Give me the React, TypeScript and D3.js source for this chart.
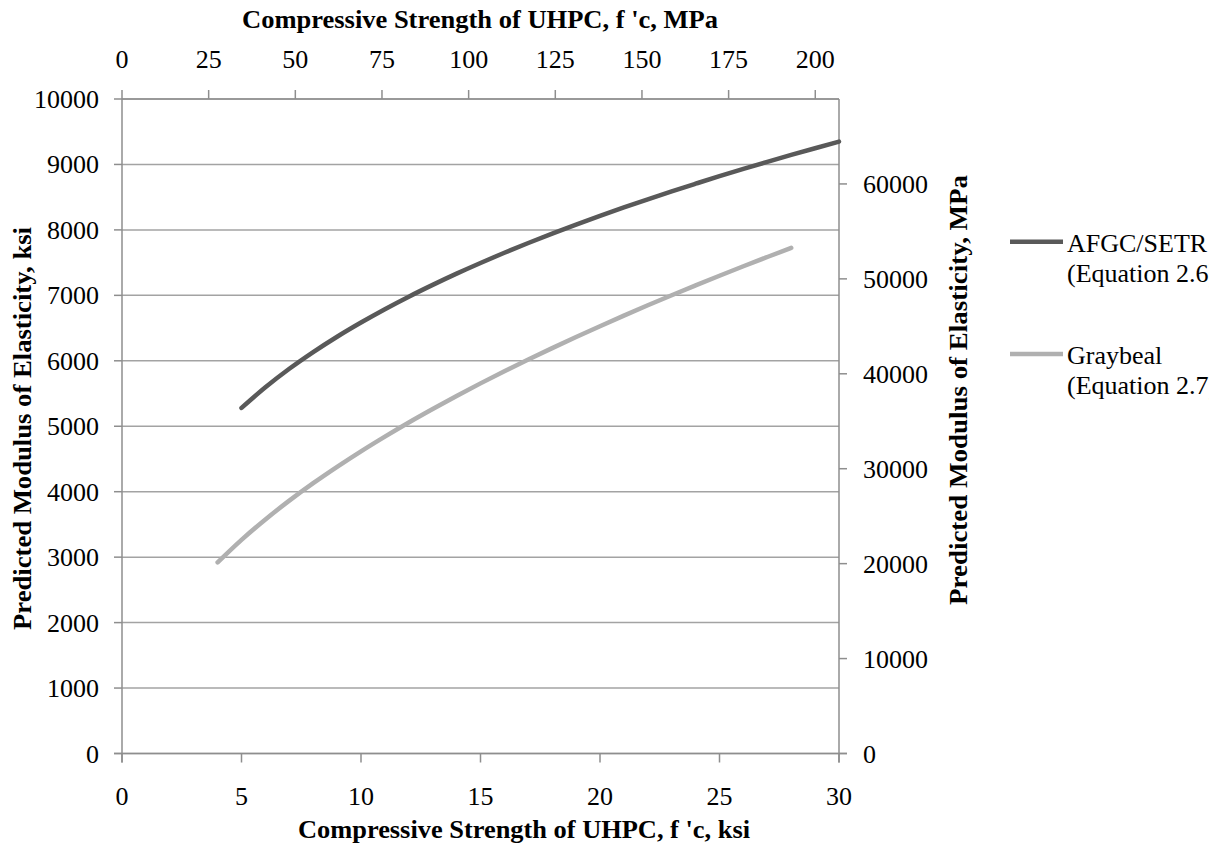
import React from "react";
import * as d3 from "d3";

const W = 1223;
const H = 846;

// Compressive strength, ksi
const afgcX = [5, 6, 7, 8, 9, 10, 11, 12, 13, 14, 15, 16, 17, 18, 19, 20, 21, 22, 23, 24, 25, 26, 27, 28, 29, 30];
// Predicted modulus, ksi (AFGC/SETR, Equation 2.6)
const afgcY = [5280, 5595, 5878, 6133, 6368, 6585, 6789, 6980, 7160, 7332, 7495, 7651, 7800, 7944, 8081, 8214, 8343, 8468, 8589, 8706, 8821, 8931, 9039, 9145, 9248, 9349];

const graybealX = [4, 5, 6, 7, 8, 9, 10, 11, 12, 13, 14, 15, 16, 17, 18, 19, 20, 21, 22, 23, 24, 25, 26, 27, 28];
// Predicted modulus, ksi (Graybeal, Equation 2.7)
const graybealY = [2920, 3265, 3576, 3863, 4130, 4380, 4617, 4842, 5058, 5264, 5463, 5655, 5840, 6020, 6194, 6364, 6529, 6691, 6848, 7002, 7152, 7300, 7445, 7586, 7725];

const bottomTicks = [0, 5, 10, 15, 20, 25, 30];
const topTicks = [0, 25, 50, 75, 100, 125, 150, 175, 200];
const leftTicks = [0, 1000, 2000, 3000, 4000, 5000, 6000, 7000, 8000, 9000, 10000];
const rightTicks = [0, 10000, 20000, 30000, 40000, 50000, 60000];

const seriesNames = ["AFGC/SETR", "Graybeal"];
const seriesSub = ["(Equation 2.6)", "(Equation 2.7)"];
const seriesColors = ["#595959", "#b0b0b0"];

const KSI_TO_MPA = 6.89476;

const titleTop = "Compressive Strength of UHPC, f 'c, MPa";
const titleBottom = "Compressive Strength of UHPC, f 'c, ksi";
const titleLeft = "Predicted Modulus of Elasticity, ksi";
const titleRight = "Predicted Modulus of Elasticity, MPa";

export default function App() {
  const x = d3.scaleLinear().domain([0, 30]).range([122, 839]);
  const xTop = d3.scaleLinear().domain([0, 30 * KSI_TO_MPA]).range([122, 839]);
  const y = d3.scaleLinear().domain([0, 10000]).range([753.5, 99]);
  const yR = d3.scaleLinear().domain([0, 10000 * KSI_TO_MPA]).range([753.5, 99]);

  const line = d3
    .line<[number, number]>()
    .x((d) => x(d[0]))
    .y((d) => y(d[1]))
    .curve(d3.curveMonotoneX);

  const afgc = afgcX.map((v, i) => [v, afgcY[i]] as [number, number]);
  const gray = graybealX.map((v, i) => [v, graybealY[i]] as [number, number]);

  const axisColor = "#8e8e8e";
  const gridColor = "#a3a3a3";
  const font = "'Liberation Serif', 'Times New Roman', serif";
  const tickSize = 26;

  const x0 = x(0), x1 = x(30), yTop = y(10000), yBot = y(0);

  return (
    <svg
      width={W}
      height={H}
      style={{ position: "absolute", left: 0, top: 0, background: "#fff" }}
      fontFamily={font}
    >
      <defs>
        <clipPath id="legendClip">
          <rect x={0} y={0} width={1209} height={H} />
        </clipPath>
      </defs>
      <rect x={0} y={0} width={W} height={H} fill="#fff" />

      {/* gridlines */}
      {leftTicks.map((t) => (
        <line key={"g" + t} x1={x0} x2={x1} y1={y(t)} y2={y(t)} stroke={gridColor} strokeWidth={1.5} />
      ))}

      {/* axes lines */}
      <line x1={x0} x2={x0} y1={yTop} y2={yBot + 9} stroke={axisColor} strokeWidth={1.5} />
      <line x1={x1} x2={x1} y1={yTop} y2={yBot + 9} stroke={axisColor} strokeWidth={1.5} />
      <line x1={x0} x2={x1} y1={yTop} y2={yTop} stroke={axisColor} strokeWidth={1.5} />
      <line x1={x0 - 8} x2={x1 + 8} y1={yBot} y2={yBot} stroke={axisColor} strokeWidth={1.5} />

      {/* left ticks & labels */}
      {leftTicks.map((t) => (
        <g key={"l" + t}>
          <line x1={x0 - 8} x2={x0} y1={y(t)} y2={y(t)} stroke={axisColor} strokeWidth={1.5} />
          <text x={99} y={y(t) + 9} textAnchor="end" fontSize={tickSize} fill="#000">
            {t}
          </text>
        </g>
      ))}

      {/* right ticks & labels */}
      {rightTicks.map((t) => (
        <g key={"r" + t}>
          <line x1={x1} x2={x1 + 8} y1={yR(t)} y2={yR(t)} stroke={axisColor} strokeWidth={1.5} />
          <text x={863} y={yR(t) + 9} textAnchor="start" fontSize={tickSize} fill="#000">
            {t}
          </text>
        </g>
      ))}

      {/* bottom ticks & labels */}
      {bottomTicks.map((t) => (
        <g key={"b" + t}>
          <line x1={x(t)} x2={x(t)} y1={yBot} y2={yBot + 9} stroke={axisColor} strokeWidth={1.5} />
          <text x={x(t)} y={805} textAnchor="middle" fontSize={tickSize} fill="#000">
            {t}
          </text>
        </g>
      ))}

      {/* top ticks & labels */}
      {topTicks.map((t) => (
        <g key={"t" + t}>
          <line x1={xTop(t)} x2={xTop(t)} y1={yTop - 9} y2={yTop} stroke={axisColor} strokeWidth={1.5} />
          <text x={xTop(t)} y={68} textAnchor="middle" fontSize={tickSize} fill="#000">
            {t}
          </text>
        </g>
      ))}

      {/* series */}
      <path d={line(afgc) || ""} fill="none" stroke={seriesColors[0]} strokeWidth={4.5} strokeLinecap="round" />
      <path d={line(gray) || ""} fill="none" stroke={seriesColors[1]} strokeWidth={4.5} strokeLinecap="round" />

      {/* titles */}
      <text x={480} y={28} textAnchor="middle" fontSize={25} fontWeight="bold" textLength={476} lengthAdjust="spacingAndGlyphs">
        {titleTop}
      </text>
      <text x={524} y={838} textAnchor="middle" fontSize={25} fontWeight="bold" textLength={452} lengthAdjust="spacingAndGlyphs">
        {titleBottom}
      </text>
      <text
        transform={`translate(31, 428.5) rotate(-90)`}
        textAnchor="middle"
        fontSize={25}
        fontWeight="bold"
        textLength={403}
        lengthAdjust="spacingAndGlyphs"
      >
        {titleLeft}
      </text>
      <text
        transform={`translate(967, 390) rotate(-90)`}
        textAnchor="middle"
        fontSize={25}
        fontWeight="bold"
        textLength={430}
        lengthAdjust="spacingAndGlyphs"
      >
        {titleRight}
      </text>

      {/* legend */}
      <g clipPath="url(#legendClip)">
        {seriesNames.map((name, i) => {
          const ly = i === 0 ? 241.7 : 354;
          return (
            <g key={name}>
              <line x1={1010} x2={1063} y1={ly} y2={ly} stroke={seriesColors[i]} strokeWidth={4.5} />
              <text x={1067} y={ly + 10} fontSize={26} fill="#000">
                {name}
              </text>
              <text x={1067} y={ly + 40} fontSize={26} fill="#000">
                {seriesSub[i]}
              </text>
            </g>
          );
        })}
      </g>
    </svg>
  );
}
